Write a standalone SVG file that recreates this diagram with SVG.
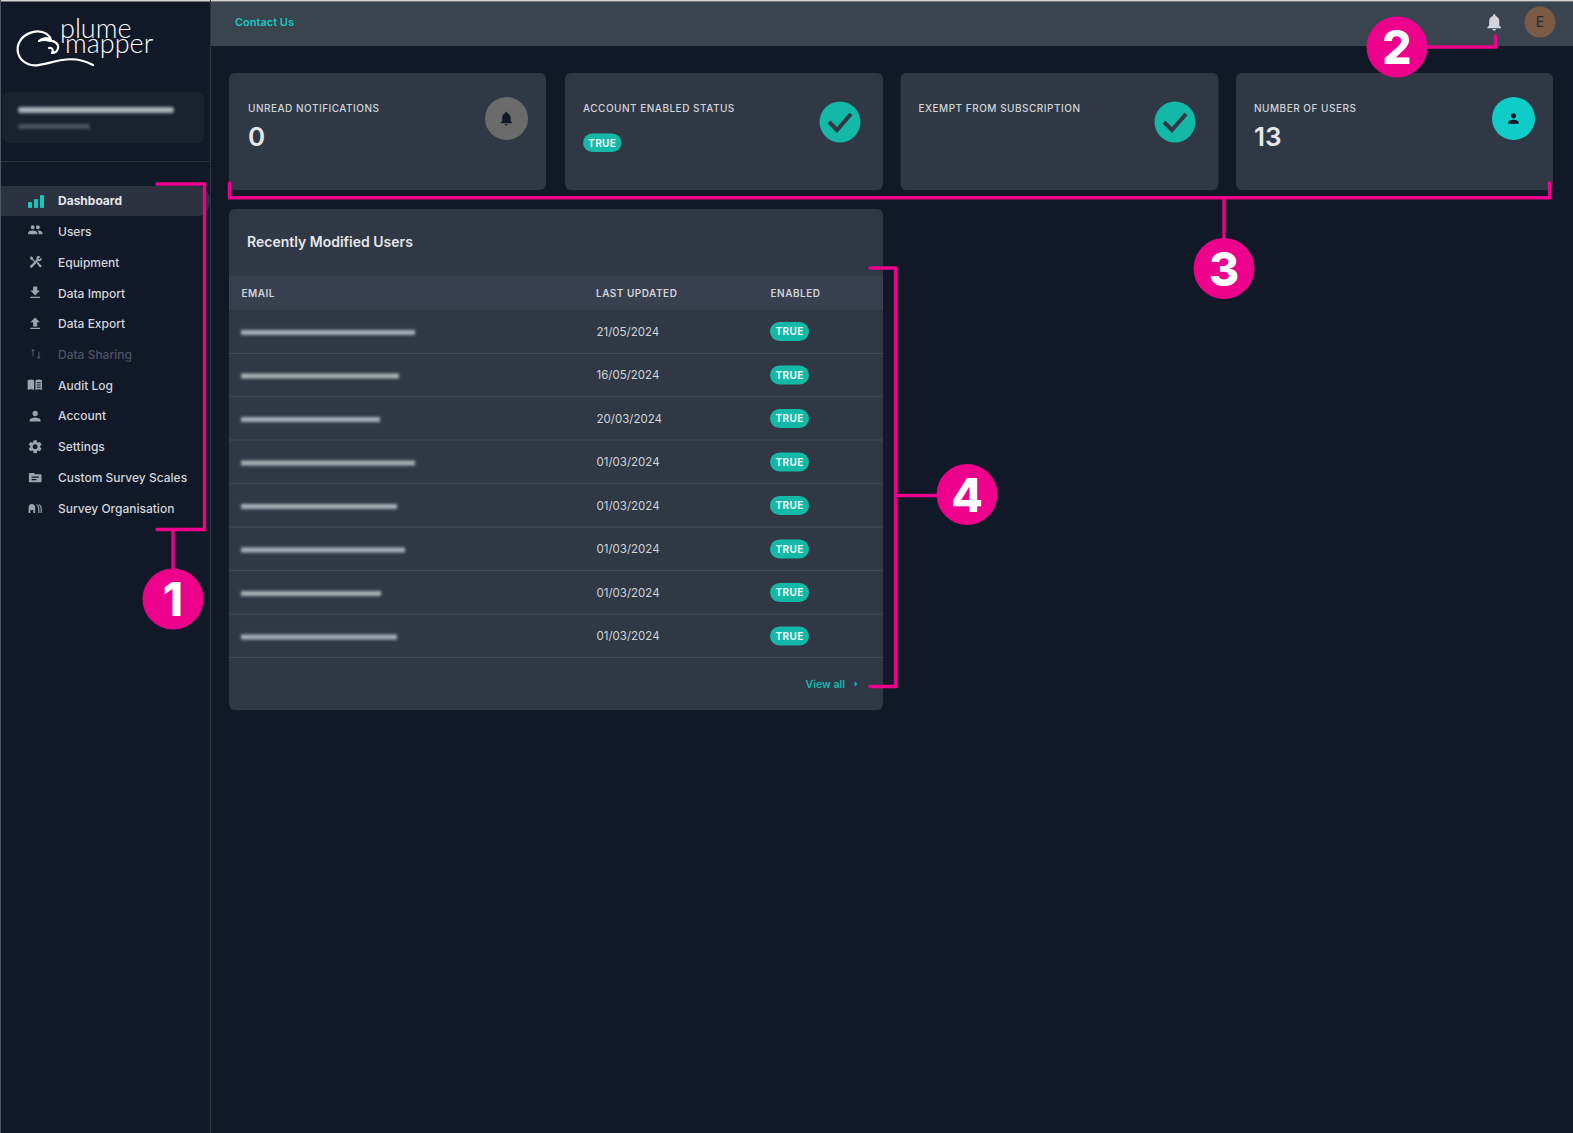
<svg xmlns="http://www.w3.org/2000/svg" width="1573" height="1133" viewBox="0 0 1573 1133">
<style>
text{font-family:Inter,"Liberation Sans",sans-serif}
.nav{font-size:12px;font-weight:500;fill:#d1d5db}
.ic{fill:#9ca3af}
.lab{font-size:10px;font-weight:500;fill:#d1d5db;letter-spacing:.5px}
.big{font-size:26px;font-weight:600;fill:#e5e7eb}
.th{font-size:10px;font-weight:600;fill:#d1d5db;letter-spacing:.5px}
.date{font-size:11.5px;fill:#d1d5db}
.bdg{fill:#14b8a6}
.bt{font-size:10px;font-weight:700;fill:#e6f7f5;text-anchor:middle;letter-spacing:.4px}
.card{fill:#2f3844}
.rl{stroke:#454a50;stroke-width:1}
.br{fill:none;stroke:#ec008c;stroke-width:3.4;stroke-linecap:round;stroke-linejoin:miter}
.dot{fill:#ec008c}
.num{font-size:46px;font-weight:800;fill:#fff;text-anchor:middle}
.bl{fill:#aab0b8;filter:url(#b)}
</style>
<defs>
<filter id="b" x="-10%" y="-100%" width="120%" height="300%"><feGaussianBlur stdDeviation="1.6"/></filter>
<path id="bell" d="M12 22c1.1 0 2-.9 2-2h-4c0 1.1.9 2 2 2zm6-6v-5c0-3.07-1.63-5.64-4.5-6.32V4c0-.83-.67-1.5-1.5-1.5s-1.5.67-1.5 1.5v.68C7.64 5.36 6 7.92 6 11v5l-2 2v1h16v-1l-2-2z"/>
<path id="person" d="M12 12c2.21 0 4-1.79 4-4s-1.79-4-4-4-4 1.79-4 4 1.79 4 4 4zm0 2c-2.67 0-8 1.34-8 4v2h16v-2c0-2.66-5.33-4-8-4z"/>
<path id="people" d="M16 11c1.66 0 2.99-1.34 2.99-3S17.66 5 16 5c-1.66 0-3 1.34-3 3s1.34 3 3 3zm-8 0c1.66 0 2.99-1.34 2.99-3S9.66 5 8 5C6.34 5 5 6.34 5 8s1.34 3 3 3zm0 2c-2.33 0-7 1.17-7 3.5V19h14v-2.5c0-2.33-4.67-3.5-7-3.5zm8 0c-.29 0-.62.02-.97.05 1.16.84 1.97 1.97 1.97 3.45V19h6v-2.5c0-2.33-4.67-3.5-7-3.5z"/>
<path id="down" d="M19 9h-4V3H9v6H5l7 7 7-7zM5 18v2h14v-2H5z"/>
<path id="up" d="M9 16h6v-6h4l-7-7-7 7h4zm-4 2h14v2H5z"/>
<path id="gear" d="M19.14 12.94c.04-.3.06-.61.06-.94 0-.32-.02-.64-.07-.94l2.03-1.58c.18-.14.23-.41.12-.61l-1.92-3.32c-.12-.22-.37-.29-.59-.22l-2.39.96c-.5-.38-1.03-.7-1.62-.94l-.36-2.54c-.04-.24-.24-.41-.48-.41h-3.84c-.24 0-.43.17-.47.41l-.36 2.54c-.59.24-1.13.57-1.62.94l-2.39-.96c-.22-.08-.47 0-.59.22L2.74 8.87c-.12.21-.08.47.12.61l2.03 1.58c-.05.3-.09.63-.09.94s.02.64.07.94l-2.03 1.58c-.18.14-.23.41-.12.61l1.92 3.32c.12.22.37.29.59.22l2.39-.96c.5.38 1.03.7 1.62.94l.36 2.54c.05.24.24.41.48.41h3.84c.24 0 .44-.17.47-.41l.36-2.54c.59-.24 1.13-.56 1.62-.94l2.39.96c.22.08.47 0 .59-.22l1.92-3.32c.12-.22.07-.47-.12-.61l-2.01-1.58zM12 15.6c-1.98 0-3.6-1.62-3.6-3.6s1.62-3.6 3.6-3.6 3.6 1.62 3.6 3.6-1.62 3.6-3.6 3.6z"/>
<path id="tools" d="M3 5l2-2 3 2 .5 2.5 3.5 3.5-1.5 1.5L7 9 4.500 8.500zM15 3c2 -1 4 -.5 5 .5l-3 3 1.500 1.500 3-3c1 1.500 .8 3.500-.5 4.800-1.300 1.200-3 1.400-4.500.8L6.500 21c-.8.8-2 .8-2.800 0s-.8-2 0-2.800L13.900 8c-.6-1.800-.4-3.700 1.100-5zM14 14l2-2 5.300 5.300c.8.8.8 2 0 2.800s-2 .8-2.800 0z"/>
<path id="book" d="M1 5c3-1.500 7-1.500 10 0v15c-3-1.500-7-1.500-10 0zM13 5c3-1.500 7-1.500 10 0v15c-3-1.500-7-1.500-10 0zM15 8v1.500h6V8zm0 3.500V13h6v-1.500zm0 3.500v1.500h6V15z" fill-rule="evenodd"/>
<path id="folder" d="M3 5h7l2 2h9c.8 0 1.500.7 1.500 1.500V19c0 .8-.7 1.500-1.500 1.500H3c-.8 0-1.500-.7-1.500-1.500V6.500C1.500 5.700 2.200 5 3 5zm3 6v2h12v-2zm0 4v2h8v-2z" fill-rule="evenodd"/>
<path id="org" d="M1 20V11c0-3 2-6 5.500-6S12 8 12 11v9H9v-5H4v5zM14 5c3 1 5 4 5 8v7h-2v-7c0-3-1.500-5.500-3-6.500zM18 5c3 1 5 4 5 8v7h-2v-7c0-3-1.500-5.500-3-6.500z"/>
<path id="swap" d="M7 3l3.500 4H8v9H6V7H3.500zM16 8h2v9h2.500L17 21l-3.500-4H16z"/>
</defs>
<rect width="1573" height="1133" fill="#111827"/>
<rect x="211" y="2" width="1362" height="44" fill="#3a444e"/>
<rect x="0" y="0" width="1573" height="1.500" fill="#d4d4d4"/>
<rect x="0" y="0" width="1" height="1133" fill="#4b5563"/>
<rect x="210" y="0" width="1" height="1133" fill="#2b3340"/>

<g id="logo">
<path d="M93 65C84 60 74 58 62 60C50 62 36 68 28 64C18 60 15 49 20 41C24 34 34 30 42 32C46 33 50 36 51 40C47 37 42 38 39 41C43 39 47 40 50 41C54 40 59 44 58 48C58 51 55 53 52 53C54 50 52 47 49 48" fill="none" stroke="#fff" stroke-width="2.200" stroke-linecap="round" stroke-linejoin="round"/>
<text x="60" y="38" font-size="27" font-weight="300" fill="#fff" style="font-family:Lato,sans-serif">plume</text>
<text x="65" y="53" font-size="27" font-weight="300" fill="#fff" style="font-family:Lato,sans-serif">mapper</text>
</g>
<g id="account-box">
<rect x="3" y="92" width="201" height="51" rx="6" fill="#1a2230"/>
<rect class="bl" x="18" y="107" width="156" height="6" rx="3"/>
<rect class="bl" x="18" y="124" width="72" height="5" rx="2.500" opacity=".35"/>
</g>
<rect x="1" y="161" width="209" height="1" fill="#2b3340"/>

<g id="nav">
<path d="M1 186H200a15 15 0 0 1 10 15a15 15 0 0 1-10 15H1z" fill="#2d3240"/>
<g id="nav-dashboard">
<rect x="28" y="202" width="4" height="6" rx="1" fill="#14c8c0"/><rect x="34" y="199" width="4" height="9" rx="1" fill="#14c8c0"/><rect x="40" y="195" width="4" height="13" rx="1" fill="#14c8c0"/>
<text class="nav" x="58" y="205" style="font-weight:700;fill:#e5e7eb">Dashboard</text></g>
<g id="nav-users"><use href="#people" class="ic" transform="translate(27.500 222) scale(.65)"/><text class="nav" x="58" y="236">Users</text></g>
<g id="nav-equipment"><use href="#tools" class="ic" transform="translate(28 254.500) scale(.62)"/><text class="nav" x="58" y="266.500">Equipment</text></g>
<g id="nav-import"><use href="#down" class="ic" transform="translate(27 284.500) scale(.68)"/><text class="nav" x="58" y="297.500">Data Import</text></g>
<g id="nav-export"><use href="#up" class="ic" transform="translate(27 315.500) scale(.68)"/><text class="nav" x="58" y="328">Data Export</text></g>
<g id="nav-sharing"><use href="#swap" fill="#4b5563" transform="translate(29 347) scale(.58)"/><text class="nav" x="58" y="359" style="fill:#4b5563">Data Sharing</text></g>
<g id="nav-audit"><use href="#book" class="ic" transform="translate(27 377) scale(.65)"/><text class="nav" x="58" y="389.500">Audit Log</text></g>
<g id="nav-account"><use href="#person" class="ic" transform="translate(27 408) scale(.68)"/><text class="nav" x="58" y="420">Account</text></g>
<g id="nav-settings"><use href="#gear" class="ic" transform="translate(27 438.500) scale(.68)"/><text class="nav" x="58" y="451">Settings</text></g>
<g id="nav-scales"><use href="#folder" class="ic" transform="translate(28 470) scale(.6)"/><text class="nav" x="58" y="482">Custom Survey Scales</text></g>
<g id="nav-org"><use href="#org" class="ic" transform="translate(28 501) scale(.6)"/><text class="nav" x="58" y="513">Survey Organisation</text></g>
</g>

<g id="topbar">
<text x="235" y="26" font-size="11" font-weight="600" fill="#14c8c0">Contact Us</text>
<use href="#bell" fill="#d1d5db" transform="translate(1484 12) scale(.85)"/>
<circle cx="1540" cy="22" r="15.500" fill="#7b5a46"/>
<text x="1540" y="27" font-size="14" text-anchor="middle" fill="#262a33">E</text>
</g>

<g id="card-notifications">
<rect class="card" x="229" y="73" width="317" height="117" rx="6"/>
<text class="lab" x="248" y="112">UNREAD NOTIFICATIONS</text>
<text class="big" x="248" y="146">0</text>
<circle cx="506.500" cy="118.500" r="21.500" fill="#6b6b6b"/>
<use href="#bell" fill="#111827" transform="translate(498 110) scale(.7)"/>
</g>
<g id="card-enabled">
<rect class="card" x="565" y="73" width="318" height="117" rx="6"/>
<text class="lab" x="583" y="112">ACCOUNT ENABLED STATUS</text>
<rect class="bdg" x="583" y="133.500" width="38.500" height="18.500" rx="9.250"/>
<text class="bt" x="602.200" y="146.500">TRUE</text>
<circle cx="840" cy="122" r="20.500" fill="#14b8a6"/>
<path d="M829 122l8 8 14-16" fill="none" stroke="#2f3844" stroke-width="4"/>
</g>
<g id="card-exempt">
<rect class="card" x="900.500" y="73" width="318" height="117" rx="6"/>
<text class="lab" x="918.500" y="112">EXEMPT FROM SUBSCRIPTION</text>
<circle cx="1175" cy="122" r="20.500" fill="#14b8a6"/>
<path d="M1164 122l8 8 14-16" fill="none" stroke="#2f3844" stroke-width="4"/>
</g>
<g id="card-users">
<rect class="card" x="1236" y="73" width="317" height="117" rx="6"/>
<text class="lab" x="1254" y="112">NUMBER OF USERS</text>
<text class="big" x="1254" y="146">13</text>
<circle cx="1513.500" cy="118.500" r="21.500" fill="#0ecdc8"/>
<use href="#person" fill="#111827" transform="translate(1505.500 110.500) scale(.66)"/>
</g>

<g id="table-card">
<rect class="card" x="229" y="209" width="654" height="501" rx="6"/>
<text x="247" y="246.500" font-size="14" font-weight="600" fill="#e5e7eb">Recently Modified Users</text>
<rect x="229" y="276" width="654" height="34" fill="#383f4e"/>
<text class="th" x="241.500" y="296.500">EMAIL</text>
<text class="th" x="596" y="296.500">LAST UPDATED</text>
<text class="th" x="770.500" y="296.500">ENABLED</text>
<g id="rows">
<path class="rl" d="M229 353.500H883M229 396.500H883M229 440H883M229 483.500H883M229 527H883M229 570.500H883M229 614H883M229 657.500H883"/>
<rect class="bl" x="241" y="330" width="174" height="5"/>
<rect class="bl" x="241" y="373.500" width="158" height="5"/>
<rect class="bl" x="241" y="417" width="139" height="5"/>
<rect class="bl" x="241" y="460.500" width="174" height="5"/>
<rect class="bl" x="241" y="504" width="156" height="5"/>
<rect class="bl" x="241" y="547.500" width="164" height="5"/>
<rect class="bl" x="241" y="591" width="140" height="5"/>
<rect class="bl" x="241" y="634.500" width="156" height="5"/>
<text class="date" x="596.500" y="335.500">21/05/2024</text>
<text class="date" x="596.500" y="379">16/05/2024</text>
<text class="date" x="596.500" y="422.500">20/03/2024</text>
<text class="date" x="596.500" y="466">01/03/2024</text>
<text class="date" x="596.500" y="509.500">01/03/2024</text>
<text class="date" x="596.500" y="553">01/03/2024</text>
<text class="date" x="596.500" y="596.500">01/03/2024</text>
<text class="date" x="596.500" y="640">01/03/2024</text>
<rect class="bdg" x="770" y="322" width="39" height="19" rx="9.500"/><text class="bt" x="789.500" y="335">TRUE</text>
<rect class="bdg" x="770" y="365.500" width="39" height="19" rx="9.500"/><text class="bt" x="789.500" y="378.500">TRUE</text>
<rect class="bdg" x="770" y="409" width="39" height="19" rx="9.500"/><text class="bt" x="789.500" y="422">TRUE</text>
<rect class="bdg" x="770" y="452.500" width="39" height="19" rx="9.500"/><text class="bt" x="789.500" y="465.500">TRUE</text>
<rect class="bdg" x="770" y="496" width="39" height="19" rx="9.500"/><text class="bt" x="789.500" y="509">TRUE</text>
<rect class="bdg" x="770" y="539.500" width="39" height="19" rx="9.500"/><text class="bt" x="789.500" y="552.500">TRUE</text>
<rect class="bdg" x="770" y="583" width="39" height="19" rx="9.500"/><text class="bt" x="789.500" y="596">TRUE</text>
<rect class="bdg" x="770" y="626.500" width="39" height="19" rx="9.500"/><text class="bt" x="789.500" y="639.500">TRUE</text>
</g>
<text x="805.500" y="688" font-size="10.500" font-weight="600" fill="#14b8b0">View all</text>
<path d="M854.500 681.500l3 2.500-3 2.500z" fill="#14b8b0"/>
</g>

<g id="connectors">
<path class="br" d="M157 184H204.500V529.500H157M173 529.500V570"/>
<path class="br" d="M1425 47H1495.500V36"/>
<path class="br" d="M229.500 183V197.700H1549.500V183M1224 197.700V240"/>
<path class="br" d="M870 268H895.500V686.500H870M895.500 495.500H938"/>
</g>
<g id="callout-1"><circle class="dot" cx="173" cy="599" r="30.500"/><text class="num" x="173" y="616">1</text></g>
<g id="callout-2"><circle class="dot" cx="1397" cy="47" r="30.500"/><text class="num" x="1397" y="64">2</text></g>
<g id="callout-3"><circle class="dot" cx="1224" cy="268.500" r="30.500"/><text class="num" x="1224" y="285.500">3</text></g>
<g id="callout-4"><circle class="dot" cx="967" cy="494.500" r="30.500"/><text class="num" x="967" y="511.500">4</text></g>
</svg>
